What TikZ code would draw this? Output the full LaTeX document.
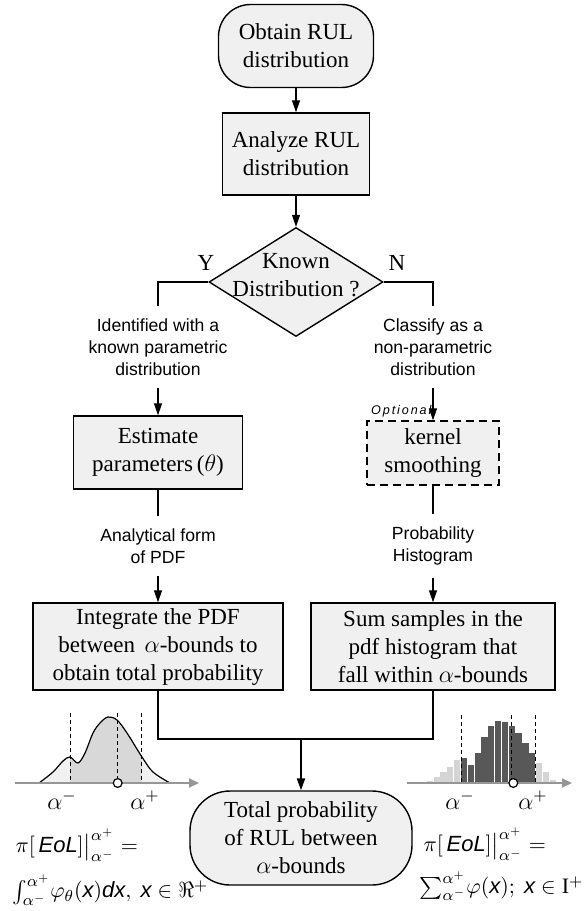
\documentclass[tikz,border=0pt]{standalone}
\usepackage{amsmath}
\usepackage{fontspec}
\setmainfont{Liberation Serif}
\newfontfamily\labelfont{Liberation Sans}
\usetikzlibrary{shapes.geometric, arrows.meta, positioning}
\definecolor{boxgray}{RGB}{240,240,240}
\definecolor{pdflight}{RGB}{241,241,241}
\definecolor{pdfdark}{RGB}{216,216,216}
\definecolor{histlight}{RGB}{212,212,212}
\definecolor{histdark}{RGB}{88,88,88}
\definecolor{axisgray}{RGB}{150,150,150}
\newcommand\sfvar[1]{\text{\labelfont\itshape #1}}
\newcommand\pdfcurve{plot[smooth,tension=0.55] coordinates {(39,783) (53,772) (63,761) (70,757) (78,763) (85,753) (93,733) (100,723) (108,717) (117,720) (127,733) (142,757) (153,772) (170,783)}}

\begin{document}
\begin{tikzpicture}[x=0.5pt, y=-0.5pt, line width=0.6pt,
    every node/.style={font=\fontsize{11.5}{14}\selectfont},
    term/.style={draw, fill=boxgray, line width=0.7pt, rounded corners=16pt, align=center, inner sep=2pt},
    proc/.style={draw, fill=boxgray, line width=0.7pt, align=center, inner sep=2pt},
    decide/.style={draw, fill=boxgray, line width=0.7pt, diamond, inner sep=0pt},
    note/.style={font=\labelfont\fontsize{8.8}{11}\selectfont, align=center, inner xsep=1pt, inner ysep=6pt},
    mathlab/.style={font=\fontsize{11}{13}\selectfont, inner sep=0pt},
    arr/.style={-{Triangle[length=6pt,width=4pt]}},
    axis/.style={draw=axisgray, line width=1pt, -{Triangle[length=5pt,width=4.5pt]}},
    bound/.style={dashed, line width=0.5pt, dash pattern=on 2pt off 1.5pt}]
\useasboundingbox (0,0) rectangle (587,911);

% flow chart
\node[term, minimum width=77.5pt, minimum height=41.5pt] (start) at (296,46) {Obtain RUL\\distribution};
\node[proc, minimum width=73.5pt, minimum height=41pt] (analyze) at (296,154) {Analyze RUL\\distribution};
\node[decide, minimum width=87pt, minimum height=54.5pt,
      label={[align=center, yshift=3.5pt]center:Known\\Distribution ?}] (known) at (296,282) {};
\node (yes) at (206,263) {Y};
\node (no) at (397,263) {N};

\node[note] (idtext) at (158,347) {Identified with a\\known parametric\\distribution};
\node[note] (cltext) at (433,347) {Classify as a\\non-parametric\\distribution};

\node[proc, minimum width=84.5pt, minimum height=36.5pt] (estimate) at (158,452.5) {Estimate\\parameters\,($\theta$)};
\node[proc, dashed, dash pattern=on 4pt off 2.5pt, minimum width=66pt, minimum height=32pt] (kernel) at (433,453) {kernel\\smoothing};
\node[font=\labelfont\itshape\fontsize{6.3}{7}\selectfont\addfontfeature{LetterSpace=15}, anchor=south east, inner sep=0pt]
     (optional) at ([xshift=-0.5pt, yshift=1.5pt]kernel.north) {Optional};

\node[note] (pdftext) at (158,546) {Analytical form\\of PDF};
\node[note] (histtext) at (433,546) {Probability\\Histogram};

\node[proc, minimum width=125pt, minimum height=43.5pt] (integrate) at (158,646.5) {Integrate the PDF\\between \,$\alpha$-bounds to\\obtain total probability};
\node[proc, minimum width=122pt, minimum height=43.5pt] (sum) at (433,646.5) {Sum samples in the\\pdf histogram that\\fall within $\alpha$-bounds};
\node[term, rounded corners=20pt, minimum width=111pt, minimum height=47pt] (total) at (301,838) {Total probability\\of RUL between\\$\alpha$-bounds};
\coordinate (join) at (301,739);

\draw[arr] (start) -- (analyze);
\draw[arr] (analyze) -- (known);
\draw (known.west) -| (idtext.north);
\draw (known.east) -| (cltext.north);
\draw[arr] (idtext) -- (estimate);
\draw[arr] (cltext) -- (kernel);
\draw (estimate) -- (pdftext);
\draw (kernel) -- (histtext);
\draw[arr] (pdftext) -- (integrate);
\draw[arr] (histtext) -- (sum);
\draw (integrate) |- (join) -| (sum);
\draw[arr, line width=1pt] (join) -- (total);

% % % % % % % % % % % % % % % % % % % % % % % % % %

% continuous pdf
\fill[pdflight] \pdfcurve -- cycle;
\begin{scope}
  \clip (70,700) rectangle (141.7,783);
  \fill[pdfdark] \pdfcurve -- cycle;
\end{scope}
\draw \pdfcurve;
\draw[axis] (15,783) -- (199,783);
\foreach \x in {70,117.7,141.7}
  \draw[bound] (\x,713) -- (\x,783);
\draw[fill=white] (117.7,783) circle (2.2pt);

\node[mathlab, font=\fontsize{12}{14}\selectfont] (lminus) at (62,800) {$\alpha^-$};
\node[mathlab, font=\fontsize{12}{14}\selectfont] (lplus) at (145,800) {$\alpha^+$};
\node[mathlab, anchor=west] (lprob) at (15,845) {$\pi[\,\sfvar{EoL}]\big|_{\alpha^-}^{\alpha^+} =$};
\node[mathlab, anchor=west] (lint) at (12,890) {$\int_{\alpha^-}^{\alpha^+}\!\varphi_\theta(\sfvar{x})\sfvar{dx},\ \sfvar{x}\in\Re^+$};

% pdf histogram
\foreach \h [count=\i from 0] in {1.7,5.7,10.7,15.7,23.3,25,18.3,30,46,57.3,62.3,61.3,56.7,50,40,30,20,10.7,3.3} {
  \ifnum\i<5 \def\barcolor{histlight}\else\ifnum\i>15 \def\barcolor{histlight}\else\def\barcolor{histdark}\fi\fi
  \fill[\barcolor] (426.7+6.83*\i,783) rectangle ++(6.2,-\h);
}
\draw[axis] (407,783) -- (572,783);
\foreach \x in {461.7,511.7,535.7}
  \draw[bound] (\x,715) -- (\x,783);
\draw[fill=white] (513.3,783) circle (2.2pt);

\node[mathlab, font=\fontsize{12}{14}\selectfont] (rminus) at (460,800) {$\alpha^-$};
\node[mathlab, font=\fontsize{12}{14}\selectfont] (rplus) at (533,800) {$\alpha^+$};
\node[mathlab, anchor=west] (rprob) at (423,844) {$\pi[\,\sfvar{EoL}]\big|_{\alpha^-}^{\alpha^+} =$};
\node[mathlab, anchor=east] (rsum) at (584,886) {$\sum_{\alpha^-}^{\alpha^+}\!\varphi(\sfvar{x});\ \sfvar{x}\in\mathrm{I}^+$};
\end{tikzpicture}
\end{document}
